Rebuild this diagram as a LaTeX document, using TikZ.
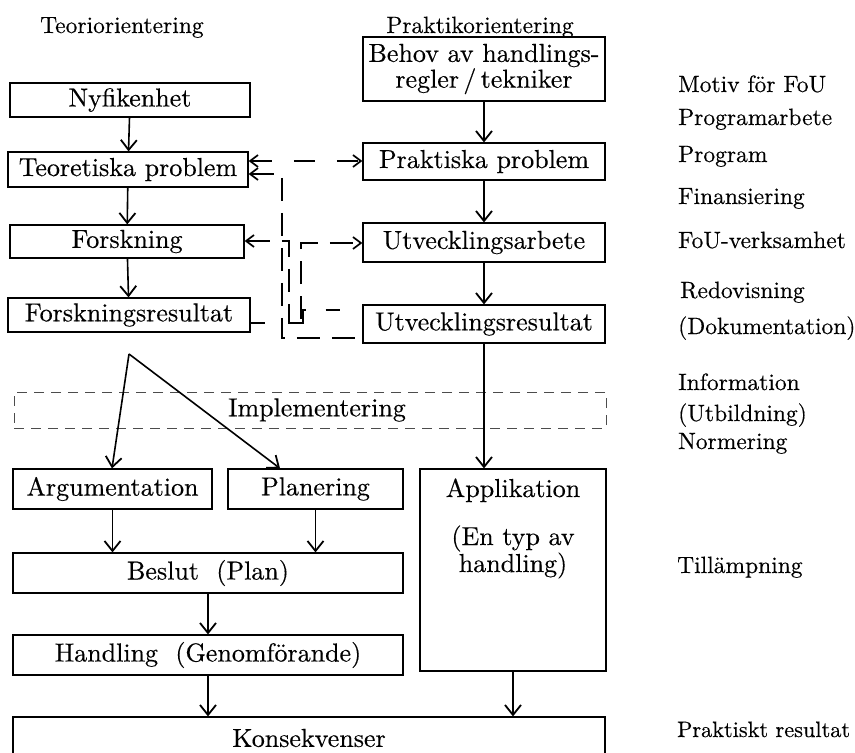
\documentclass[tikz,border=0pt]{standalone}
\usepackage{fontspec}
\usetikzlibrary{arrows.meta}
\newfontfamily\bxfam{lmroman10-regular.otf}[FakeBold=0.35]
\newcommand\bxfont{\bxfam\fontsize{26}{22}\selectfont}
\newcommand\sdfont{\bxfam\fontsize{23.5}{27}\selectfont}
\begin{document}
\begin{tikzpicture}[x=1pt,y=-1pt,
  box/.style={draw, line width=1.2pt, inner sep=0pt, font=\bxfont, align=center},
  side/.style={anchor=base west, inner sep=0pt, font=\sdfont},
  head/.style={anchor=base, inner sep=0pt, font=\sdfont},
  tip/.style={-{Straight Barb[length=10pt,width=16pt,line width=1.8pt]}},
  flow/.style={line width=1.6pt, tip},
  dl/.style={line width=1.6pt, dash pattern=on 23pt off 12pt},
  dtip/.tip={Straight Barb[length=8pt,width=12pt,line width=1.7pt]}
]
\useasboundingbox (0,0) rectangle (855,753);

% column headings
\node[head, anchor=base west] (hteo) at (40,33) {Teoriorientering};
\node[head] (hprak) at (480,33) {Praktikorientering};

% theory column
\node[box, minimum width=240pt, minimum height=34pt] (ny) at (130,100) {Nyfikenhet};
\node[box, minimum width=240pt, minimum height=35pt] (tp) at (128,169.5) {Teoretiska problem};
\node[box, minimum width=234pt, minimum height=33pt] (fo) at (127,241.5) {Forskning};
\node[box, minimum width=242pt, minimum height=34pt] (fr) at (129,315) {Forskningsresultat};

% practice column
\node[box, minimum width=242pt, minimum height=64pt] (beh) at (484,69) {Behov av handlings-\\regler\,/\,tekniker};
\node[box, minimum width=242pt, minimum height=37pt] (pp) at (484,161.5) {Praktiska problem};
\node[box, minimum width=242pt, minimum height=39pt] (ua) at (484,242.5) {Utvecklingsarbete};
\node[box, minimum width=242pt, minimum height=38pt] (ur) at (484,324) {Utvecklingsresultat};

% implementation band
\node[draw, line width=0.8pt, dash pattern=on 10pt off 7pt, black!70, text=black,
      minimum width=592pt, minimum height=36pt, inner sep=0pt, font=\bxfont]
      (impl) at (310,410) {\hspace*{14pt}Implementering};

% lower part
\node[box, minimum width=199pt, minimum height=40pt] (arg) at (112.5,489) {Argumentation};
\node[box, minimum width=175pt, minimum height=40pt] (pla) at (315.5,489) {Planering};
\node[box, minimum width=186pt, minimum height=202pt] (app) at (513,570) {};
\node[anchor=base, inner sep=0pt, font=\bxfont] (appa) at (513,497) {Applikation};
\node[anchor=base, inner sep=0pt, font=\bxfont, align=center] (appb) at (513,572) {(En typ av\\handling)};
\node[box, minimum width=390pt, minimum height=40pt] (bes) at (208,573) {Beslut\ \ (Plan)};
\node[box, minimum width=390pt, minimum height=40pt] (han) at (208,655) {Handling\ \ (Genomförande)};
\node[box, minimum width=592pt, minimum height=42pt] (kon) at (309,738) {Konsekvenser};

% stage labels
\node[side] (l1) at (678,92) {Motiv för FoU};
\node[side] (l2) at (678,125) {Programarbete};
\node[side] (l3) at (678,162) {Program};
\node[side] (l4) at (678,204) {Finansiering};
\node[side] (l5) at (678,248) {FoU-verksamhet};
\node[side] (l6) at (680,298) {Redovisning};
\node[side] (l7) at (678,334) {(Dokumentation)};
\node[side] (l8) at (678,390) {Information};
\node[side] (l9) at (678,421) {(Utbildning)};
\node[side] (l10) at (678,449) {Normering};
\node[side] (l11) at (677,573) {Tillämpning};
\node[side, font=\bxfam\fontsize{22.3}{27}\selectfont] (l12) at (677,737) {Praktiskt resultat};

% solid flow arrows
\draw[flow] (ny) -- (tp);
\draw[flow] (tp) -- (fo);
\draw[flow] (fo) -- (fr);
\draw[flow] (beh) -- (pp);
\draw[flow] (pp) -- (ua);
\draw[flow] (ua) -- (ur);
\draw[flow] (ur.south) -- (ur.south |- app.north);
\coordinate (apex) at (129,354);
\draw[flow] (apex) -- ([xshift=-0.5pt]arg.north);
\draw[flow] (apex) -- ([xshift=-35.5pt]pla.north);
\draw[flow] (arg.south) -- (arg.south |- bes.north);
\draw[flow] (pla.south) -- (pla.south |- bes.north);
\draw[flow] (bes) -- (han);
\draw[flow] (han) -- (han.south |- kon.north);
\draw[flow] (app) -- (app.south |- kon.north);

% dashed links between the two columns
\coordinate (yA) at (0,161);
\draw[dl, dash pattern=on 21pt off 22pt, dtip-dtip] (tp.east |- yA) -- (pp.west |- yA);

\coordinate (yB) at (0,174);
\coordinate (yB2) at (0,338);
\coordinate (bB1) at (282,174);
\coordinate (bB2) at (282,338);
\draw[dl, dtip-] (tp.east |- yB) -- (bB1) -- (bB2) -- (ur.west |- yB2);

\coordinate (yC) at (0,241);
\coordinate (yC2) at (0,243);
\coordinate (bC1) at (289,241);
\coordinate (bC2) at (289,323);
\coordinate (bC3) at (301,323);
\coordinate (bC4) at (301,243);
\draw[dl, dtip-dtip] (fo.east |- yC) -- (bC1) -- (bC2) -- (bC3) -- (bC4) -- (ua.west |- yC2);

\coordinate (yD) at (0,323);
\coordinate (yD2) at (0,310);
\coordinate (bD1) at (303,323);
\coordinate (bD2) at (303,310);
\draw[dl, dash pattern=on 14pt off 24pt on 30pt off 20pt] (fr.east |- yD) -- (bD1) -- (bD2) -- (ur.west |- yD2);
\end{tikzpicture}
\end{document}
